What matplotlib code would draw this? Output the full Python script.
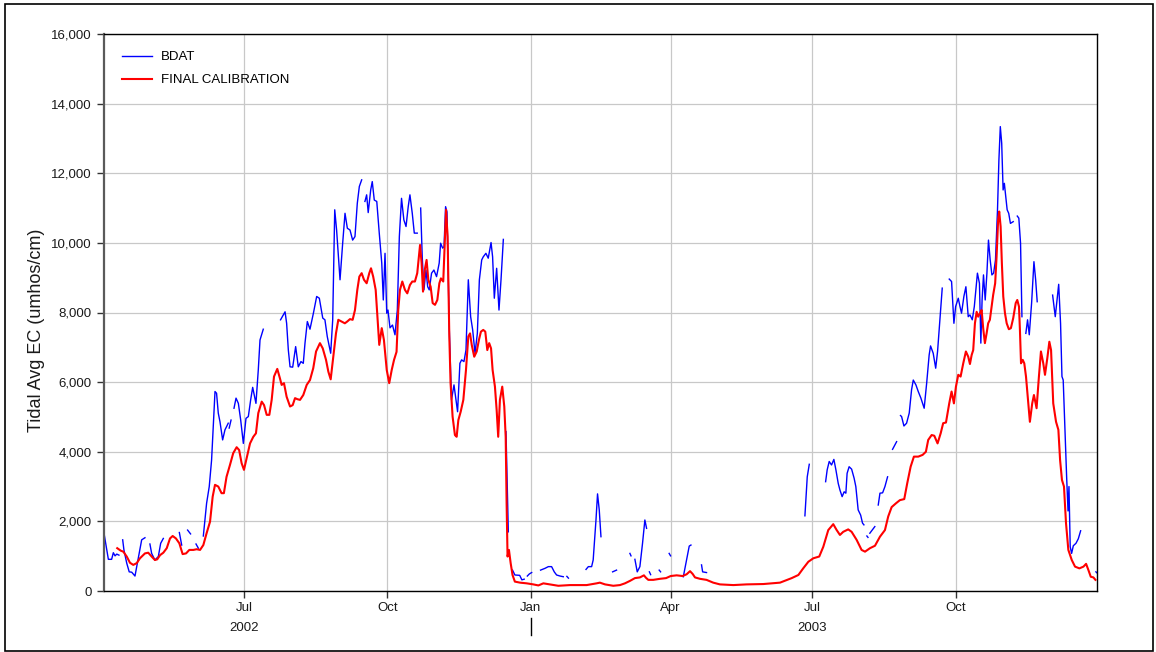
import numpy as np
import pandas as pd
import matplotlib
matplotlib.use('Agg')
import matplotlib.pyplot as plt
import matplotlib.dates as mdates
from matplotlib.ticker import FuncFormatter, MultipleLocator
from matplotlib.patches import Rectangle
from matplotlib.transforms import blended_transform_factory

plt.rcParams['font.family'] = ['Liberation Sans', 'DejaVu Sans']

# ---- data (days after 2002-04-02, EC in umhos/cm) ----
start = pd.Timestamp('2002-04-02')

# BDAT observed series, one list per unbroken piece (gaps in record)
bdat_day = [
    [0, 2.8, 4.9, 6.0, 7.1, 8.2, 9.6],
    [12.0, 12.8, 14.6, 16.2, 17.8, 19.9, 21.0, 22.7, 24.2, 26.3],
    [29.5, 30.6, 32.7, 34.9, 36.4, 38.1],
    [48.4, 49.9],
    [53.7, 55.6],
    [59.1, 60.6],
    [63.8, 65.9, 67.6, 69.1, 71.3, 72.3, 73.4, 74.5, 76.2, 77.7, 79.8],
    [80.4, 81.6],
    [83.5, 84.8, 86.3, 87.8, 89.5, 91.2, 92.7, 94.2, 95.5, 97.6, 99.1, 100.2, 102.3],
    [113.4, 116.3, 117.3, 118.4, 119.5, 121.2, 123.1, 124.8, 126.5, 128.0, 129.1,
     130.6, 132.3, 134.5, 136.6, 138.3, 140.5, 141.9, 143.4, 145.6, 146.9, 148.2,
     149.4, 151.6, 153.3, 154.8, 156.3, 158.0, 159.7, 161.2, 162.7, 164.0, 165.5],
    [167.6, 168.7, 169.7, 171.3, 172.3, 173.6, 175.2, 176.8, 178.4, 179.4, 180.5,
     181.6, 182.4, 183.7, 185.3, 186.9, 188.4, 189.7, 191.1, 192.6, 194.0, 195.4,
     196.5, 198.0, 199.3, 201.2],
    [203.4, 204.4, 205.5, 206.8, 207.9, 208.9, 210.4, 211.9, 213.6, 215.3, 216.2,
     217.5, 218.4, 219.4, 220.3, 221.8, 223.2, 224.8, 226.1, 227.1, 228.6, 229.7,
     231.2, 232.5, 234.0, 235.5, 236.8, 238.3, 239.8, 241.1, 242.6, 243.6, 245.3,
     246.8, 248.6, 249.6, 250.7, 252.2, 253.7, 255.0, 256.5],
    [258.2, 259.7],
    [262.4, 263.9, 267.0, 268.4, 269.9],
    [271.9, 273.2, 274.7],
    [280.4, 283.2, 285.4, 287.5, 289.2, 290.7, 292.9, 295.0],
    [297.3, 298.3],
    [309.6, 311.1, 313.2, 314.2, 316.0, 317.0, 318.1, 319.2],
    [326.7, 329.2],
    [337.8, 338.5],
    [341.0, 342.5, 344.2, 345.9, 347.4, 348.5],
    [350.3, 351.1],
    [356.6, 357.5],
    [363.0, 363.9],
    [372.1, 374.2, 375.9, 377.0],
    [383.8, 384.5, 387.0],
    [450.2, 451.7, 453.0],
    [463.5, 464.5, 465.8, 467.3, 468.8, 470.1, 471.6, 472.7, 474.1, 475.4, 476.5,
     477.3, 478.6, 480.2, 481.8, 482.9, 484.4, 486.0, 487.2, 488.1],
    [490.0, 490.7],
    [491.9, 495.1],
    [497.3, 498.4, 500.1, 501.6, 503.3],
    [506.5, 508.0, 509.1],
    [511.6, 512.3, 513.8, 515.5, 517.2, 518.7, 519.8, 521.5, 523.0, 524.7, 526.8,
     528.4, 530.0, 530.9, 532.6, 534.2, 535.4, 536.9, 538.4],
    [542.9, 544.4, 545.9, 547.0, 548.7, 549.8, 550.8, 552.3, 553.6, 555.1, 556.2,
     557.7, 559.0, 559.9, 561.0, 562.3, 563.2, 564.0, 564.9, 566.0, 567.1, 568.1,
     569.2, 570.3, 571.4, 572.6, 573.9, 574.8, 575.7, 576.6, 577.5, 578.3, 579.2,
     580.1, 581.1, 582.2, 584.0],
    [586.6, 587.6, 588.7, 589.6],
    [592.1, 593.2, 594.3, 595.8, 597.3, 598.4, 599.4],
    [609.3, 611.0, 611.9, 613.2, 614.4, 615.3, 616.1, 617.2, 618.3, 619.2, 619.8,
     620.6, 621.5, 622.6, 624.3, 625.8, 627.3],
    [637.1, 637.8],
]
bdat_ec = [
    [1660, 910, 910, 1100, 1010, 1060, 1030],
    [1470, 1180, 800, 550, 540, 430, 700, 1130, 1470, 1530],
    [1350, 1080, 890, 990, 1370, 1510],
    [1680, 1320],
    [1750, 1640],
    [1350, 1230],
    [1580, 2520, 3000, 3760, 5730, 5680, 5110, 4860, 4340, 4630, 4820],
    [4680, 4910],
    [5250, 5540, 5390, 4910, 4240, 4960, 5010, 5490, 5850, 5390, 6350, 7210, 7520],
    [7790, 8020, 7690, 6920, 6440, 6430, 7020, 6440, 6590, 6540, 7120,
     7740, 7520, 7980, 8460, 8410, 7840, 7790, 7310, 6830, 7790, 10950,
     10370, 8940, 9990, 10850, 10420, 10370, 10080, 10180, 11140, 11620, 11810],
    [11190, 11380, 10870, 11520, 11760, 11230, 11190, 10280, 9420, 8360, 9700,
     7980, 8070, 7560, 7640, 7360, 8070, 10180, 11280, 10660, 10470, 11040,
     11380, 10850, 10280, 10280],
    [11000, 9600, 8650, 9220, 8740, 8650, 9130, 9220, 9030, 9420, 9990,
     9850, 9890, 11040, 10890, 7500, 5490, 5920, 5490, 5150, 6540, 6640,
     6590, 6920, 8940, 7880, 7500, 6830, 7400, 8940, 9510, 9600, 9700,
     9560, 10010, 9600, 8410, 9270, 8070, 8940, 10100],
    [4580, 1700],
    [600, 460, 450, 320, 340],
    [430, 490, 530],
    [600, 650, 700, 700, 550, 460, 430, 410],
    [420, 370],
    [620, 700, 700, 890, 2040, 2790, 2330, 1560],
    [550, 600],
    [1080, 1010],
    [910, 550, 700, 1370, 2040, 1800],
    [550, 470],
    [600, 550],
    [1080, 1010],
    [410, 890, 1290, 1320],
    [750, 550, 530],
    [2160, 3280, 3640],
    [3140, 3480, 3720, 3620, 3780, 3480, 3090, 2900, 2710, 2850, 2810,
     3380, 3570, 3500, 3240, 3000, 2330, 2180, 1950, 1900],
    [1580, 1540],
    [1660, 1850],
    [2470, 2810, 2820, 3000, 3280],
    [4070, 4200, 4290],
    [5040, 5010, 4740, 4820, 5110, 5780, 6060, 5920, 5730, 5540, 5250,
     5970, 6780, 7040, 6830, 6400, 6880, 7790, 8700],
    [8960, 8890, 7690, 8170, 8410, 8170, 7980, 8460, 8740, 7880, 7930,
     7790, 8170, 8600, 9130, 8840, 7120, 8360, 9080, 8360, 9130, 10080,
     9510, 9080, 9130, 9510, 10950, 12380, 13340, 12860, 11520, 11710, 11330,
     10950, 10850, 10560, 10610],
    [10770, 10710, 9990, 7880],
    [7400, 7790, 7360, 8270, 9460, 8940, 8310],
    [8500, 7880, 8270, 8810, 7690, 6160, 6060, 4630, 3280, 2300, 3000,
     1270, 1080, 1300, 1370, 1500, 1730],
    [550, 520],
]

# FINAL CALIBRATION model series
cal_day = [
    8.5, 10.7, 12.4, 14.6, 16.7, 18.8, 21.0, 23.1, 26.3, 28.4,
    30.6, 32.7, 34.2, 36.0, 38.1, 40.3, 42.4, 44.1, 46.2, 48.4,
    50.5, 52.7, 54.8, 57.4, 59.5, 61.7, 63.8, 65.9, 68.1, 69.8,
    71.3, 73.4, 75.5, 77.0, 78.7, 80.9, 83.0, 85.2, 86.8, 88.4,
    89.9, 91.6, 93.8, 95.9, 97.6, 99.1, 101.3, 102.8, 104.5, 106.2,
    107.7, 109.2, 111.3, 113.0, 114.1, 115.6, 117.3, 119.5, 121.2, 122.7,
    124.2, 125.9, 128.0, 130.2, 132.3, 134.4, 136.2, 138.7, 140.5, 142.6,
    144.1, 145.6, 147.3, 149.0, 150.5, 152.6, 154.7, 156.2, 158.0, 159.7,
    161.2, 162.7, 164.0, 165.5, 167.0, 168.7, 170.4, 171.5, 172.9, 174.5,
    175.5, 176.8, 178.4, 179.8, 181.6, 183.2, 184.8, 186.3, 187.9, 189.0,
    190.1, 191.6, 193.3, 194.8, 196.5, 198.0, 199.7, 201.2, 203.0, 204.0,
    204.9, 206.0, 207.2, 208.3, 209.8, 211.1, 212.6, 214.1, 215.4, 216.4,
    217.9, 219.0, 219.7, 220.7, 221.8, 222.6, 223.9, 225.4, 226.5, 227.6,
    229.1, 230.8, 232.5, 234.0, 235.1, 236.2, 237.8, 239.4, 240.8, 242.1,
    243.6, 244.9, 246.2, 247.4, 248.6, 249.6, 251.1, 252.2, 253.2, 254.3,
    255.8, 257.1, 258.0, 258.6, 259.2, 260.1, 261.2, 262.4, 263.9, 267.2,
    271.5, 275.7, 279.0, 282.2, 286.5, 291.8, 299.3, 310.0, 316.4, 318.5,
    321.8, 327.1, 331.4, 334.6, 337.8, 341.0, 344.2, 346.8, 348.1, 349.6,
    352.8, 357.1, 361.0, 364.0, 367.8, 371.6, 374.2, 376.4, 378.1, 379.6,
    382.8, 387.0, 391.3, 395.6, 404.2, 412.8, 423.5, 434.2, 441.7, 446.0,
    449.1, 452.4, 455.6, 459.4, 462.0, 465.2, 468.4, 470.6, 472.7, 474.8,
    478.0, 480.2, 483.4, 486.6, 488.8, 492.0, 495.2, 498.4, 501.6, 503.7,
    505.9, 508.7, 511.2, 514.0, 515.9, 518.1, 520.2, 523.0, 525.8, 527.9,
    529.4, 531.6, 533.3, 535.4, 537.4, 539.0, 540.8, 542.9, 544.4, 545.9,
    547.2, 548.7, 550.2, 551.9, 553.6, 555.1, 556.2, 557.3, 558.3, 559.4,
    560.5, 561.5, 562.6, 563.7, 564.7, 565.8, 566.9, 567.9, 569.0, 570.1,
    571.1, 572.4, 573.3, 574.3, 575.0, 575.9, 576.7, 577.6, 578.7, 579.8,
    581.2, 582.5, 584.0, 585.6, 586.6, 587.7, 588.3, 589.0, 590.1, 591.1,
    592.2, 593.3, 594.7, 596.2, 597.3, 599.0, 600.5, 601.8, 603.3, 604.4,
    605.9, 607.2, 608.3, 609.7, 611.5, 613.0, 614.1, 615.3, 616.6, 617.9,
    619.4, 621.6, 623.7, 626.5, 629.1, 630.8, 632.3, 633.8, 635.5, 636.8,
]
cal_ec = [
    1230, 1160, 1130, 990, 810, 750, 800, 940, 1080, 1100,
    990, 890, 910, 1030, 1100, 1230, 1510, 1580, 1510, 1370,
    1060, 1080, 1180, 1180, 1200, 1180, 1320, 1660, 1990, 2710,
    3050, 3000, 2810, 2810, 3280, 3620, 3960, 4130, 4050, 3670,
    3480, 3810, 4240, 4430, 4530, 5110, 5440, 5340, 5060, 5060,
    5490, 6160, 6380, 6110, 5920, 5970, 5580, 5300, 5340, 5540,
    5510, 5490, 5630, 5920, 6060, 6400, 6880, 7120, 6970, 6640,
    6300, 6080, 6730, 7400, 7790, 7740, 7690, 7740, 7810, 7790,
    8070, 8650, 9030, 9130, 8940, 8840, 9130, 9270, 9030, 8650,
    7980, 7070, 7550, 7210, 6350, 5970, 6350, 6640, 6870, 8070,
    8650, 8890, 8650, 8550, 8790, 8890, 8890, 9130, 9940, 9420,
    8600, 9220, 9510, 8940, 8740, 8270, 8220, 8360, 8840, 8980,
    8890, 10180, 10950, 10180, 7310, 5970, 5010, 4480, 4430, 4910,
    5150, 5490, 6350, 7310, 7400, 7070, 6730, 6880, 7210, 7450,
    7500, 7450, 6920, 7120, 6970, 6350, 5870, 5200, 4430, 5490,
    5870, 5300, 4430, 2520, 990, 1180, 800, 460, 270, 240,
    220, 190, 160, 220, 190, 150, 170, 170, 220, 240,
    190, 150, 170, 220, 290, 370, 390, 450, 380, 320,
    320, 350, 370, 430, 450, 430, 480, 570, 490, 390,
    350, 320, 240, 190, 170, 190, 200, 240, 370, 460,
    650, 840, 940, 990, 1270, 1750, 1920, 1750, 1610, 1700,
    1770, 1700, 1470, 1180, 1130, 1230, 1300, 1560, 1750, 2140,
    2410, 2520, 2610, 2640, 3090, 3570, 3860, 3860, 3910, 4000,
    4340, 4480, 4460, 4240, 4530, 4820, 4840, 5390, 5730, 5390,
    5870, 6210, 6160, 6540, 6880, 6730, 6520, 6780, 6920, 7690,
    8020, 7880, 7980, 8070, 7550, 7120, 7400, 7690, 7790, 8170,
    8500, 8840, 9600, 10660, 10900, 10470, 9420, 8460, 7980, 7690,
    7520, 7550, 7840, 8270, 8360, 8170, 7500, 6540, 6640, 6540,
    6160, 5580, 4860, 5390, 5630, 5250, 6160, 6880, 6540, 6210,
    6690, 7160, 6920, 5390, 4860, 4630, 3760, 3190, 3000, 1950,
    1180, 890, 700, 650, 700, 780, 600, 410, 390, 320,
]

year_labels = ['2002', '2003']
year_centers = ['2002-07-01', '2003-07-01']
year_break = '2003-01-01'


def to_dates(days):
    return start + pd.to_timedelta(np.asarray(days, dtype=float), unit='D')


# join the BDAT pieces with NaN so gaps stay open
bx, by = [], []
for d, v in zip(bdat_day, bdat_ec):
    bx += list(d) + [d[-1] + 0.05]
    by += list(v) + [np.nan]

fig = plt.figure(figsize=(11.56, 6.52), dpi=100)
ax = fig.add_axes([104 / 1156, 1 - 591 / 652, 993.3 / 1156, 557 / 652])

ax.plot(to_dates(bx), by, color='#0000ff', lw=1.0, label='BDAT')
ax.plot(to_dates(cal_day), cal_ec, color='#ff0000', lw=1.5, label='FINAL CALIBRATION')

ax.set_xlim(start, start + pd.Timedelta(days=638))
ax.set_ylim(0, 16000)
ax.yaxis.set_major_locator(MultipleLocator(2000))
ax.yaxis.set_major_formatter(FuncFormatter(lambda v, p: f'{v:,.0f}'))
ax.xaxis.set_major_locator(mdates.MonthLocator(bymonth=[1, 4, 7, 10]))
ax.xaxis.set_major_formatter(mdates.DateFormatter('%b'))

ax.grid(True, color='#c8c8c8', lw=0.9)
ax.set_axisbelow(True)

for side in ['top', 'right', 'bottom']:
    ax.spines[side].set_color('black')
    ax.spines[side].set_linewidth(1.0)
ax.spines['left'].set_color('#5a5a5a')
ax.spines['left'].set_linewidth(1.6)

ax.tick_params(axis='both', direction='out', length=5, width=1, color='#333333',
               labelsize=9.5, labelcolor='#1a1a1a')
ax.tick_params(axis='y', pad=4)
ax.tick_params(axis='x', pad=3)

# year labels and the year separator under the axis
trans = blended_transform_factory(ax.transData, ax.transAxes)
for lab, c in zip(year_labels, year_centers):
    ax.text(mdates.date2num(pd.Timestamp(c)), -0.066, lab, transform=trans,
            ha='center', va='center', fontsize=9.5, color='#1a1a1a')
xb = mdates.date2num(pd.Timestamp(year_break))
ax.plot([xb, xb], [-0.048, -0.079], transform=trans, color='black', lw=1, clip_on=False)

fig.text(37 / 1156, 1 - 330 / 652, 'Tidal Avg EC (umhos/cm)', rotation=90,
         ha='center', va='center', fontsize=13, color='#1a1a1a')

ax.legend(loc='upper left', bbox_to_anchor=(0.0181, 0.9696), frameon=False,
          fontsize=9.5, handlelength=2.27, handletextpad=0.68, labelspacing=0.83,
          borderaxespad=0, borderpad=0)

# outer frame around the whole picture
fig.patches.append(Rectangle((4.5 / 1156, 1.5 / 652), 1148.5 / 1156, 646.5 / 652,
                             transform=fig.transFigure, fill=False,
                             edgecolor='black', lw=1.2))

fig.savefig('out.png', dpi=100)
